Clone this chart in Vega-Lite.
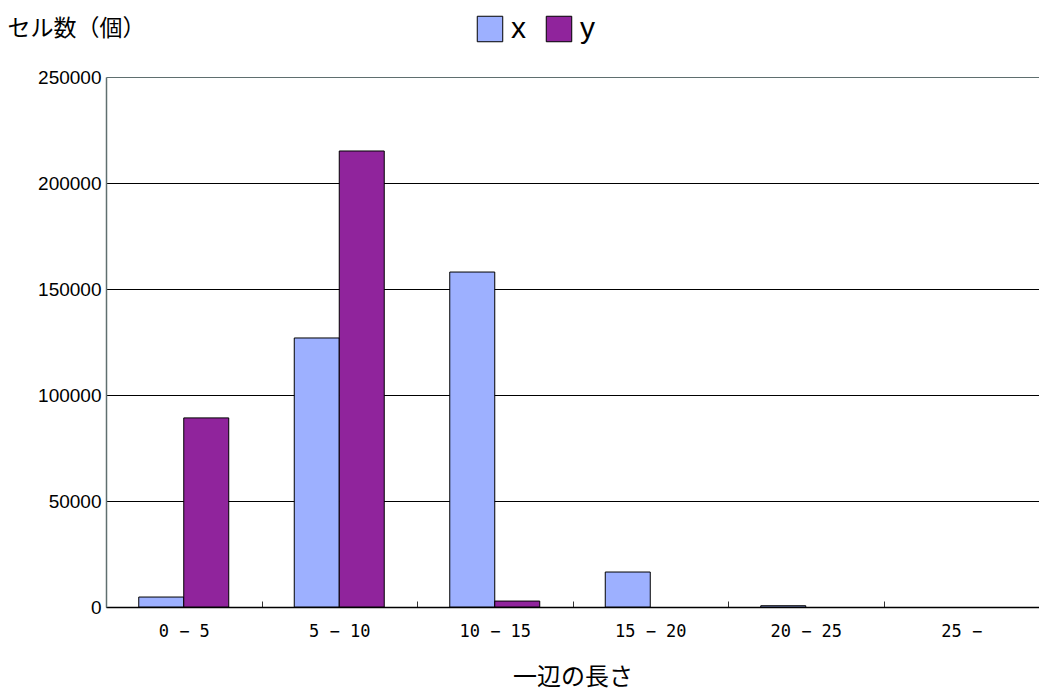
{
  "$schema": "https://vega.github.io/schema/vega-lite/v6.json",
  "width": 933,
  "height": 530,
  "autosize": {"type": "none"},
  "padding": {"left": 106, "top": 77, "right": 0, "bottom": 85},
  "background": "white",
  "config": {
    "view": {"stroke": null},
    "font": "Noto Sans CJK JP"
  },
  "data": {
    "values": [
      {"range": "0 − 5", "series": "x", "count": 4700},
      {"range": "0 − 5", "series": "y", "count": 89200},
      {"range": "5 − 10", "series": "x", "count": 126900},
      {"range": "5 − 10", "series": "y", "count": 215100},
      {"range": "10 − 15", "series": "x", "count": 158000},
      {"range": "10 − 15", "series": "y", "count": 2800},
      {"range": "15 − 20", "series": "x", "count": 16500},
      {"range": "15 − 20", "series": "y", "count": 0},
      {"range": "20 − 25", "series": "x", "count": 600},
      {"range": "20 − 25", "series": "y", "count": 0},
      {"range": "25 −", "series": "x", "count": 0},
      {"range": "25 −", "series": "y", "count": 0}
    ]
  },
  "mark": {"type": "bar", "stroke": "black", "strokeWidth": 1},
  "encoding": {
    "x": {
      "field": "range",
      "type": "nominal",
      "sort": null,
      "scale": {"paddingInner": 0, "paddingOuter": 0},
      "axis": {
        "title": "一辺の長さ",
        "titleFontSize": 24,
        "titleFontWeight": "normal",
        "titleColor": "black",
        "titleY": 70,
        "titleBaseline": "middle",
        "labelAngle": 0,
        "labelFont": "DejaVu Sans Mono",
        "labelFontSize": 17,
        "labelColor": "black",
        "labelPadding": 22,
        "tickBand": "extent",
        "tickSize": -6,
        "tickColor": "#333333",
        "domainColor": "black",
        "domainWidth": 1.5
      }
    },
    "xOffset": {
      "field": "series",
      "type": "nominal",
      "scale": {"domain": ["x", "y"], "paddingInner": 0, "paddingOuter": 0.728}
    },
    "y": {
      "field": "count",
      "type": "quantitative",
      "scale": {"domain": [0, 250000], "nice": false},
      "axis": {
        "title": "セル数（個）",
        "titleAngle": 0,
        "titleX": -99,
        "titleY": -49,
        "titleAlign": "left",
        "titleBaseline": "middle",
        "titleFontSize": 23,
        "titleFontWeight": "normal",
        "titleColor": "black",
        "values": [0, 50000, 100000, 150000, 200000, 250000],
        "format": "d",
        "labelFontSize": 19,
        "labelFont": "Liberation Sans",
        "labelColor": "black",
        "labelPadding": 5,
        "ticks": false,
        "grid": true,
        "gridColor": {"condition": {"test": "datum.value === 250000", "value": "#5f6f6f"}, "value": "black"},
        "gridWidth": 1,
        "domainColor": "#5f6f6f",
        "domainWidth": 1.5
      }
    },
    "strokeOpacity": {
      "condition": {"test": "datum.count <= 0", "value": 0},
      "value": 1
    },
    "color": {
      "field": "series",
      "type": "nominal",
      "scale": {"domain": ["x", "y"], "range": ["#9db0ff", "#90249c"]},
      "legend": {
        "title": null,
        "orient": "none",
        "direction": "horizontal",
        "legendX": 369,
        "legendY": -63,
        "symbolType": "square",
        "symbolSize": 650,
        "symbolStrokeColor": "black",
        "symbolStrokeWidth": 1,
        "symbolOpacity": 1,
        "labelFontSize": 30,
        "labelFont": "Liberation Sans",
        "labelColor": "black",
        "labelOffset": 6,
        "columnPadding": 18
      }
    }
  }
}
